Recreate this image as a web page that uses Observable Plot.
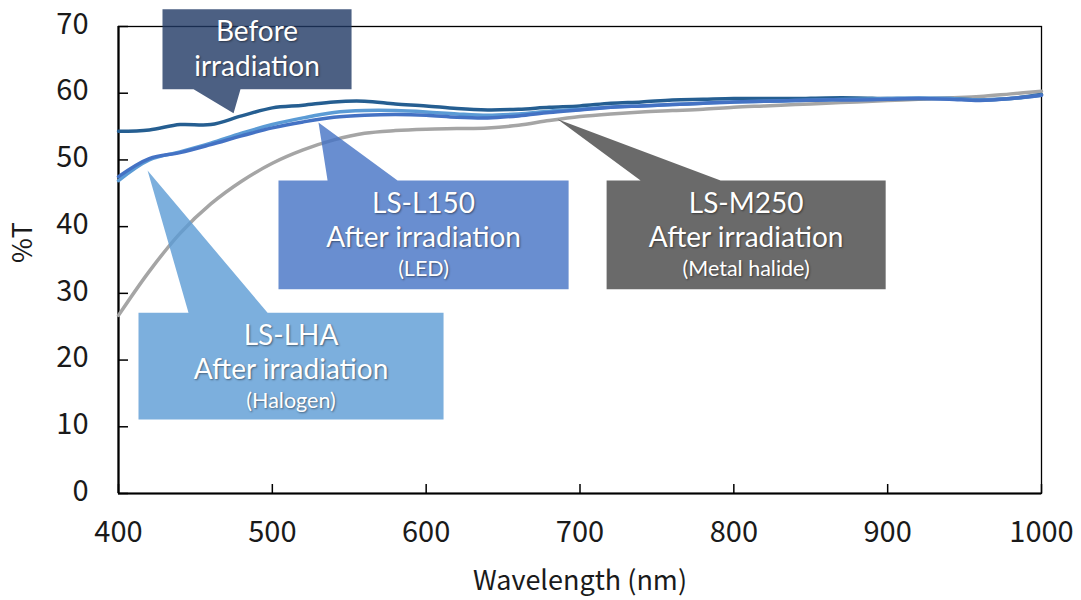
<!DOCTYPE html>
<html><head><meta charset="utf-8">
<script src="https://cdn.jsdelivr.net/npm/d3@7"></script>
<script src="https://cdn.jsdelivr.net/npm/@observablehq/plot@0.6"></script>
<style>
html,body{margin:0;padding:0;background:#fff;}
#chart svg{display:block;}
g[fill="white"] text{ text-shadow: 1px 1px 2px rgba(0,0,0,0.45); }
</style></head><body><div id="chart"></div>
<script>
// ---- data ----
const wavelengths = [400,420,440,460,480,500,520,540,560,580,600,620,640,660,680,700,720,740,760,780,800,820,840,860,880,900,920,940,960,980,1000];
const beforeT = [54.3,54.5,55.3,55.3,56.6,57.8,58.2,58.7,58.8,58.4,58.1,57.7,57.5,57.6,57.9,58.1,58.5,58.7,59.0,59.1,59.2,59.2,59.2,59.3,59.3,59.2,59.2,59.2,59.0,59.2,59.8];
const l150T   = [47.5,50.2,51.1,52.3,53.6,54.8,55.7,56.4,56.7,56.8,56.7,56.4,56.3,56.6,57.1,57.5,57.9,58.1,58.3,58.5,58.7,58.8,58.9,59.0,59.0,59.1,59.2,59.1,58.9,59.2,59.7];
const lhaT    = [46.9,50.0,51.2,52.5,54.0,55.3,56.3,57.1,57.4,57.4,57.2,56.9,56.7,56.9,57.3,57.6,57.9,58.1,58.3,58.5,58.7,58.8,58.9,59.0,59.1,59.2,59.3,59.2,59.0,59.2,59.7];
const m250T   = [26.7,33.3,39.0,43.4,46.8,49.5,51.5,53.0,54.0,54.4,54.6,54.7,54.8,55.2,55.9,56.5,56.9,57.2,57.4,57.6,57.9,58.1,58.3,58.5,58.7,58.9,59.1,59.3,59.5,59.9,60.3];

const seriesNames  = ["LS-M250", "Before", "LS-LHA", "LS-L150"];
const seriesValues = [m250T, beforeT, lhaT, l150T];
const seriesColors = ["#A5A5A5", "#255E91", "#5B9BD5", "#4472C4"];

const xTicks = [400,500,600,700,800,900,1000];
const yTicks = [0,10,20,30,40,50,60,70];

// callouts (data units): box x1,x2,yTop,yBottom ; pointer base bl,br ; tip tx,ty
const calloutTitle = ["Before", "LS-L150", "LS-LHA", "LS-M250"];
const calloutLine2 = ["irradiation", "After irradiation", "After irradiation", "After irradiation"];
const calloutNote  = ["", "(LED)", "(Halogen)", "(Metal halide)"];
const calloutFill  = ["#1F3864", "#4472C4", "#5B9BD5", "#454545"];
const calloutX1    = [428.6, 504.0, 413.0, 717.3];
const calloutX2    = [551.5, 692.6, 611.3, 898.7];
const calloutYTop  = [72.6, 46.9, 27.1, 46.9];
const calloutYBot  = [60.6, 30.6, 11.1, 30.6];
const calloutBaseL = [448.8, 535.9, 445.5, 739.4];
const calloutBaseR = [479.3, 581.4, 496.9, 791.4];
const calloutTipX  = [474.8, 530.0, 418.9, 685.4];
const calloutTipY  = [57.0, 55.6, 48.4, 56.1];

// ---- build tables ----
const lineRows = seriesNames.flatMap((name, s) =>
  wavelengths.map((w, i) => ({series: name, w, t: seriesValues[s][i]})));

function polygon(i) {
  const x1 = calloutX1[i], x2 = calloutX2[i], yt = calloutYTop[i], yb = calloutYBot[i];
  const bl = calloutBaseL[i], br = calloutBaseR[i], tx = calloutTipX[i], ty = calloutTipY[i];
  if (ty < yb) { // pointer below box
    return [[x1,yt],[x2,yt],[x2,yb],[br,yb],[tx,ty],[bl,yb],[x1,yb]].map(([x,y]) => ({x,y}));
  }
  return [[x1,yt],[bl,yt],[tx,ty],[br,yt],[x2,yt],[x2,yb],[x1,yb]].map(([x,y]) => ({x,y}));
}
const calloutRows = calloutTitle.map((t, i) => ({
  cx: (calloutX1[i] + calloutX2[i]) / 2, top: calloutYTop[i],
  title: t, line2: calloutLine2[i], note: calloutNote[i]
}));

const W = 1081, H = 600, ML = 118, MR = 40, MT = 26, MB = 107;
const plotW = W - ML - MR, plotH = H - MT - MB;
const font = "'Noto Sans CJK JP', 'Noto Sans', sans-serif";
const calloutFont = "Lato, 'Noto Sans', sans-serif";

const marks = [
  Plot.frame({stroke: "black", strokeWidth: 1.3}),
  Plot.tickY(yTicks, {y: d => d, insetRight: plotW - 10, stroke: "black", strokeWidth: 1.5}),
  Plot.tickX(xTicks, {x: d => d, insetTop: plotH - 9, stroke: "black", strokeWidth: 1.5}),
  Plot.ruleX([400], {stroke: "black", strokeWidth: 2.2}),
  Plot.ruleY([0], {stroke: "black", strokeWidth: 2.2}),
  Plot.axisY({ticks: yTicks, tickSize: 0, tickPadding: 30, fontSize: 29, dy: -2, label: null}),
  Plot.axisX({ticks: xTicks, tickSize: 0, tickPadding: 28, fontSize: 29, tickFormat: d => String(d), label: null}),
  Plot.text(["%T"], {frameAnchor: "left", dx: -95, dy: 3, rotate: -90, fontSize: 27}),
  Plot.text(["Wavelength (nm)"], {frameAnchor: "bottom", dy: 96, fontSize: 27}),
  ...seriesNames.map((name, s) =>
    Plot.line(lineRows.filter(d => d.series === name),
      {x: "w", y: "t", stroke: seriesColors[s], strokeWidth: 3.5, curve: "catmull-rom"})),
  ...calloutTitle.map((t, i) =>
    Plot.line(polygon(i), {x: "x", y: "y", fill: calloutFill[i], fillOpacity: 0.8, stroke: "none", curve: "linear-closed"})),
  Plot.text(calloutRows, {x: "cx", y: "top", text: "title", dy: 23, fill: "white", fontSize: 28, fontFamily: calloutFont}),
  Plot.text(calloutRows, {x: "cx", y: "top", text: "line2", dy: 57.5, fill: "white", fontSize: 28, fontFamily: calloutFont}),
  Plot.text(calloutRows.filter(d => d.note), {x: "cx", y: "top", text: "note", dy: 88.5, fill: "white", fontSize: 21.5, fontFamily: calloutFont})
];

const chart = Plot.plot({
  width: W, height: H,
  marginLeft: ML, marginRight: MR, marginTop: MT, marginBottom: MB,
  x: {domain: [400, 1000]},
  y: {domain: [0, 70]},
  style: {fontFamily: font, fontSize: "29px", color: "#1a1a1a", background: "white", overflow: "visible"},
  marks
});
document.getElementById("chart").appendChild(chart);
</script>
</body></html>
